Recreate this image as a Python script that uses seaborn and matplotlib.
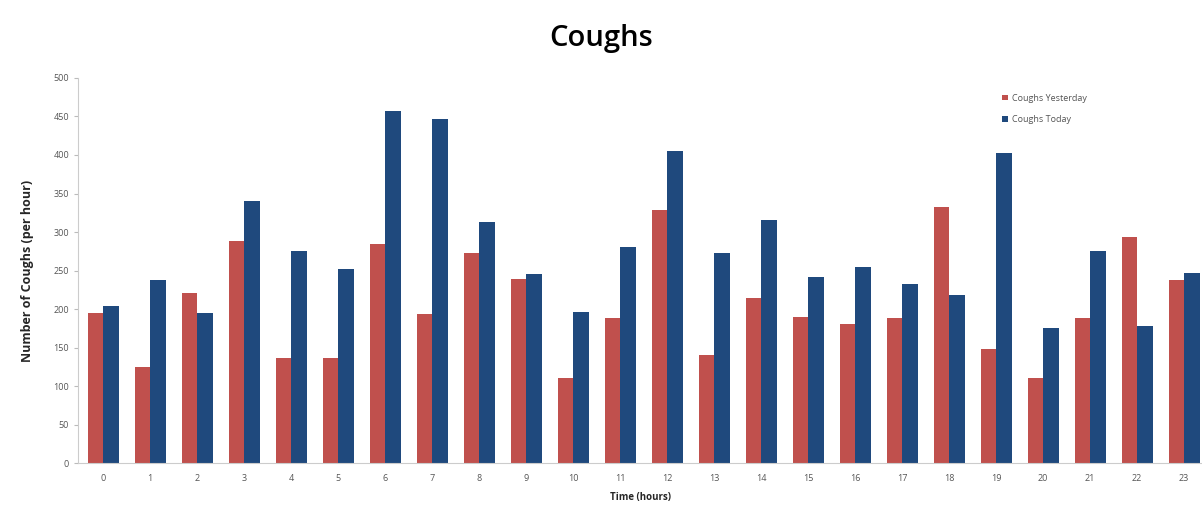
import matplotlib
matplotlib.use('Agg')
import matplotlib.pyplot as plt
from matplotlib.ticker import MultipleLocator, FixedLocator
import pandas as pd
import seaborn as sns

# values
hours = list(range(24))
coughs_yesterday = [195, 125, 221, 289, 136, 137, 284, 194, 273, 239, 110, 189,
                    329, 141, 215, 190, 181, 189, 332, 148, 111, 189, 293, 238]
coughs_today = [204, 238, 195, 340, 276, 252, 457, 447, 313, 245, 196, 280,
                405, 273, 316, 242, 254, 233, 218, 402, 176, 276, 178, 247]
series_names = ['Coughs Yesterday', 'Coughs Today']
colors = ['#c0504d', '#1f497d']

sns.set_style('white')
plt.rcParams['font.family'] = ['Open Sans', 'DejaVu Sans']

df = pd.DataFrame({
    'hour': hours * 2,
    'coughs': coughs_yesterday + coughs_today,
    'series': [series_names[0]] * 24 + [series_names[1]] * 24,
})

fig = plt.figure(figsize=(12.02, 5.30), dpi=100)
ax = fig.add_axes([0.065, 0.126, 0.935, 0.727])
sns.barplot(data=df, x='hour', y='coughs', hue='series', hue_order=series_names,
            palette=colors, width=0.66, gap=0, saturation=1, linewidth=0, ax=ax)

ax.set_ylim(0, 500)
ax.set_xlim(-0.53, 23.38)
ax.yaxis.set_major_locator(MultipleLocator(50))
ax.xaxis.set_minor_locator(FixedLocator([h - 0.5 for h in hours] + [23.5]))
ax.tick_params(axis='x', which='major', length=0, labelsize=6.5, labelcolor='#555555', pad=8)
ax.tick_params(axis='x', which='minor', length=3, color='#bbbbbb', direction='out')
ax.tick_params(axis='y', length=3, color='#bbbbbb', labelsize=6.5, labelcolor='#555555', left=True)

for side in ['top', 'right']:
    ax.spines[side].set_visible(False)
for side in ['left', 'bottom']:
    ax.spines[side].set_color('#cccccc')
    ax.spines[side].set_linewidth(0.8)

ax.set_xlabel('Time (hours)', fontsize=7, fontweight='bold', labelpad=6)
ax.set_ylabel('Number of Coughs (per hour)', fontsize=9, fontweight='bold', labelpad=14)
fig.suptitle('Coughs', fontsize=21, fontweight='semibold', y=0.955, color='black')

ax.legend(loc='upper left', bbox_to_anchor=(0.815, 0.98), frameon=False,
          fontsize=6.5, handlelength=0.6, handleheight=0.6, handletextpad=0.5,
          labelspacing=1.4, labelcolor='#555555')

fig.savefig('out.png', dpi=100)
